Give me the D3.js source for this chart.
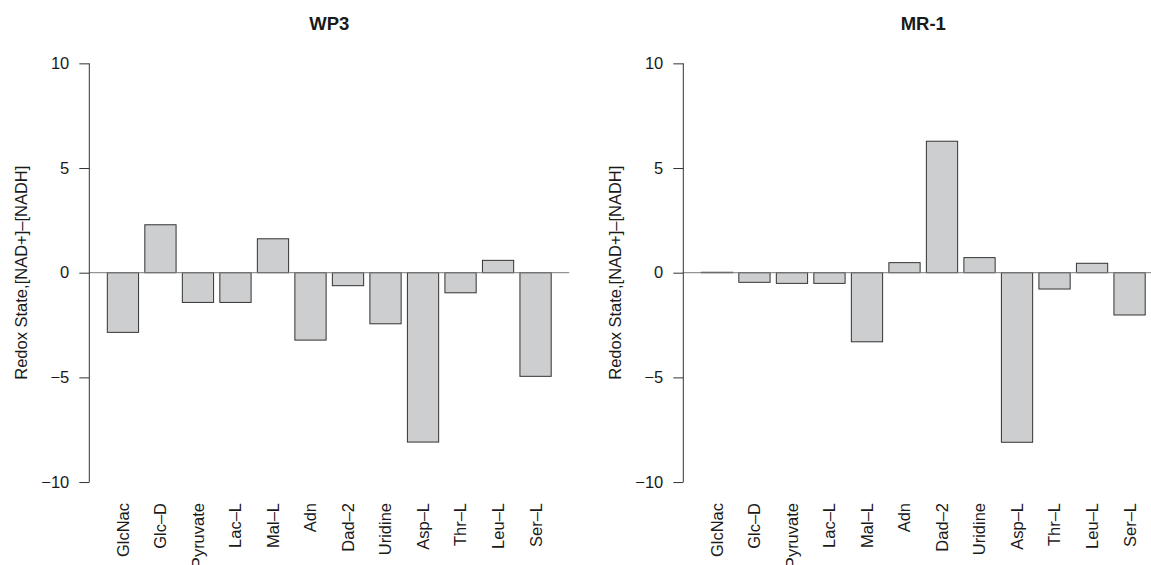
<!DOCTYPE html>
<html>
<head>
<meta charset="utf-8">
<script src="https://cdn.jsdelivr.net/npm/d3@7"></script>
<style>
  body { margin: 0; background: #fff; }
  svg text { font-family: "Liberation Sans", Arial, Helvetica, sans-serif; fill: #1a1a1a; }
</style>
</head>
<body>
<svg id="chart"></svg>
<script>
//substrates on the x axis (same for both panels)
let substrates = ['GlcNac', 'Glc\u2013D', 'Pyruvate', 'Lac\u2013L', 'Mal\u2013L', 'Adn', 'Dad\u20132', 'Uridine', 'Asp\u2013L', 'Thr\u2013L', 'Leu\u2013L', 'Ser\u2013L']

//redox state per substrate
let wp3Values = [-2.85, 2.29, -1.42, -1.42, 1.62, -3.22, -0.62, -2.44, -8.09, -0.96, 0.59, -4.95]
let mr1Values = [0.02, -0.46, -0.51, -0.51, -3.30, 0.48, 6.28, 0.72, -8.10, -0.78, 0.45, -2.02]

let panelTitles = ['WP3', 'MR-1']
let yTicks = [-10, -5, 0, 5, 10]
let yLabel = 'Redox State,[NAD+]\u2013[NADH]'

//overall size
let outerWidth = 1151
let outerHeight = 565
let fontSize = '16.5px'

//plot regions (left edge of each panel's plotting area)
let panelLeft = [89.3, 683.3]
let plotWidth = 479.9
let plotTop = 46.6
let plotBottom = 498.8

let svg = d3.select('svg#chart')
  .attr('width', outerWidth)
  .attr('height', outerHeight)

//same y scale for both panels
let yScale = d3.scaleLinear()
  .domain([-10.8, 10.8])
  .range([plotBottom, plotTop])

let panels = [
  { title: panelTitles[0], values: wp3Values, left: panelLeft[0] },
  { title: panelTitles[1], values: mr1Values, left: panelLeft[1] }
]

panels.forEach(p => drawPanel(p))

function drawPanel(p) {
  let g = svg.append('g')

  let xScale = d3.scaleBand()
    .domain(substrates)
    .range([p.left, p.left + plotWidth])
    .paddingInner(1 / 6)
    .paddingOuter(0.48)

  //bars
  g.selectAll('rect.bar')
    .data(substrates)
    .enter()
    .append('rect')
    .attr('class', 'bar')
    .attr('x', (d, i) => xScale(d))
    .attr('width', xScale.bandwidth())
    .attr('y', (d, i) => yScale(Math.max(0, p.values[i])))
    .attr('height', (d, i) => Math.abs(yScale(p.values[i]) - yScale(0)))
    .attr('fill', '#cdcecf')
    .attr('stroke', '#333')
    .attr('stroke-width', 1)

  //zero line across the plot
  g.append('line')
    .attr('x1', p.left)
    .attr('x2', p.left + plotWidth)
    .attr('y1', yScale(0))
    .attr('y2', yScale(0))
    .attr('stroke', '#7a7a7a')
    .attr('stroke-width', 1)

  //y axis
  let yAxis = d3.axisLeft(yScale)
    .tickValues(yTicks)
    .tickSize(10)
    .tickPadding(10)

  let ax = g.append('g')
    .attr('transform', 'translate(' + p.left + ',0)')
    .call(yAxis)
  ax.select('.domain').remove()
  ax.selectAll('.tick line').attr('stroke', '#333')
  ax.selectAll('.tick text')
    .style('font-size', fontSize)
    .attr('fill', '#1a1a1a')
    .attr('font-family', null)
  ax.append('line')
    .attr('x1', 0).attr('x2', 0)
    .attr('y1', yScale(yTicks[0]))
    .attr('y2', yScale(yTicks[yTicks.length - 1]))
    .attr('stroke', '#333')

  //substrate labels, vertical
  g.selectAll('text.xlab')
    .data(substrates)
    .enter()
    .append('text')
    .attr('class', 'xlab')
    .attr('transform', d => 'translate(' + (xScale(d) + xScale.bandwidth() / 2) + ',503) rotate(-90)')
    .attr('text-anchor', 'end')
    .attr('dy', '0.36em')
    .style('font-size', fontSize)
    .text(d => d)

  //y axis label
  let lx = p.left - 62.6
  let ly = (plotTop + plotBottom) / 2
  g.append('text')
    .attr('transform', `rotate(-90 ${lx} ${ly})`)
    .attr('x', lx)
    .attr('y', ly)
    .attr('text-anchor', 'middle')
    .style('font-size', fontSize)
    .text(yLabel)

  //panel title
  g.append('text')
    .attr('x', p.left + plotWidth / 2)
    .attr('y', 30)
    .attr('text-anchor', 'middle')
    .style('font-size', '18.5px')
    .style('font-weight', 'bold')
    .text(p.title)
}
</script>
</body>
</html>
